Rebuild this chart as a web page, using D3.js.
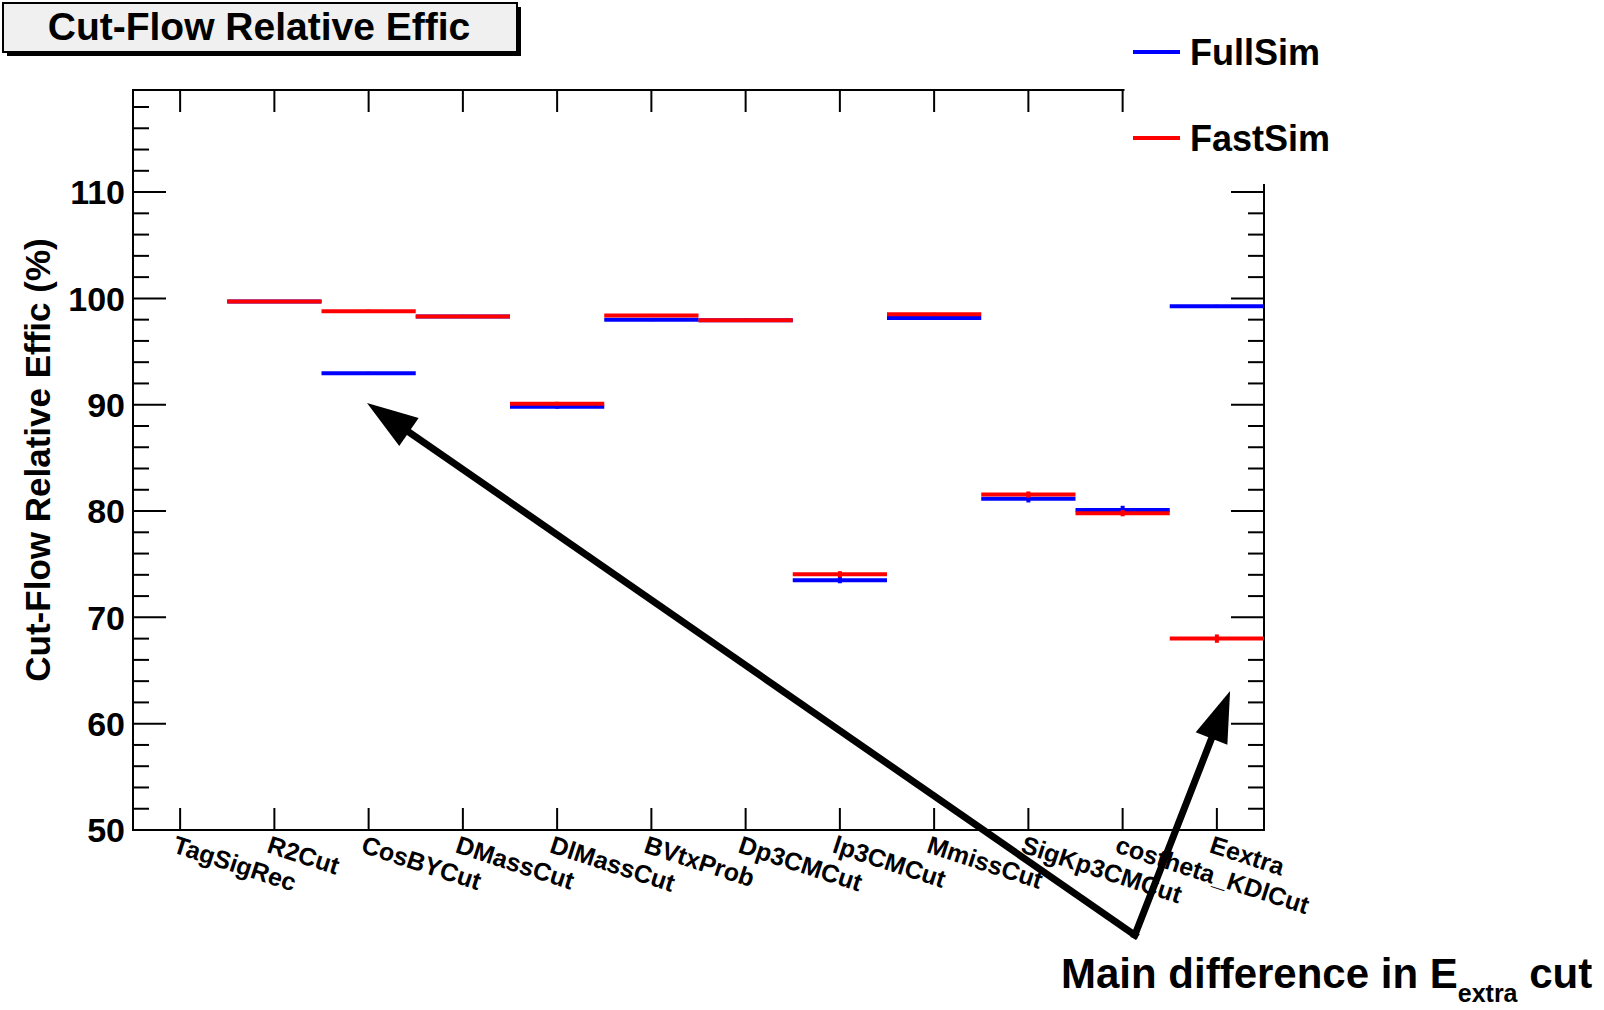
<!DOCTYPE html>
<html>
<head>
<meta charset="utf-8">
<script src="https://cdn.jsdelivr.net/npm/d3@7"></script>
<style>
  body { margin: 0; background: #fff; }
  text { font-family: "Liberation Sans", Arial, Helvetica, sans-serif; font-weight: bold; }
</style>
</head>
<body>
<div id="frame_div"></div>
<script>
// cut-flow relative efficiency, FullSim vs FastSim

const categories = ["TagSigRec", "R2Cut", "CosBYCut", "DMassCut", "DlMassCut", "BVtxProb",
                    "Dp3CMCut", "lp3CMCut", "MmissCut", "SigKp3CMCut", "costheta_KDlCut", "Eextra"];

// first bin has no efficiency
const fullSim = [null, 99.7, 92.95, 98.3, 89.8, 98.0, 97.95, 73.5, 98.15, 81.15, 80.1, 99.25];
const fastSim = [null, 99.7, 98.8, 98.3, 90.1, 98.4, 97.95, 74.05, 98.5, 81.55, 79.8, 68.0];
const fullErr = [null, 0.03, 0.05, 0.05, 0.08, 0.05, 0.05, 0.2, 0.05, 0.25, 0.3, 0.05];
const fastErr = [null, 0.03, 0.05, 0.05, 0.08, 0.05, 0.05, 0.2, 0.05, 0.2, 0.2, 0.3];

const yMajor = [50, 60, 70, 80, 90, 100, 110];

const FRAME_WIDTH = 1604;
const FRAME_HEIGHT = 1010;
const PLOT = {left: 133, right: 1264, top: 90, bottom: 830};
const Y_MAX = 119.6;

const svg = d3.select("#frame_div")
  .append("svg")
    .attr("width", FRAME_WIDTH)
    .attr("height", FRAME_HEIGHT);

const X_SCALE = d3.scaleBand()
  .domain(categories)
  .range([PLOT.left, PLOT.right])
  .padding(0);

// continuous version of the x axis, in bin units, for annotations
const X_LIN = d3.scaleLinear().domain([0, categories.length]).range([PLOT.left, PLOT.right]);

const Y_SCALE = d3.scaleLinear()
  .domain([50, Y_MAX])
  .range([PLOT.bottom, PLOT.top]);

const bw = X_SCALE.bandwidth();
const center = (c) => X_SCALE(c) + bw / 2;

// frame
svg.append("rect")
  .attr("x", PLOT.left).attr("y", PLOT.top)
  .attr("width", PLOT.right - PLOT.left).attr("height", PLOT.bottom - PLOT.top)
  .attr("fill", "none").attr("stroke", "#000").attr("stroke-width", 2);

// y ticks, left and right
const minorTicks = d3.range(50, Y_MAX, 2);
minorTicks.forEach((v) => {
  const major = yMajor.includes(v);
  const len = major ? 33 : 16;
  svg.append("line")
    .attr("x1", PLOT.left).attr("x2", PLOT.left + len)
    .attr("y1", Y_SCALE(v)).attr("y2", Y_SCALE(v))
    .attr("stroke", "#000").attr("stroke-width", 2);
  svg.append("line")
    .attr("x1", PLOT.right).attr("x2", PLOT.right - len)
    .attr("y1", Y_SCALE(v)).attr("y2", Y_SCALE(v))
    .attr("stroke", "#000").attr("stroke-width", 2);
});

svg.selectAll(".ylab")
  .data(yMajor)
  .enter()
  .append("text")
    .attr("x", 125)
    .attr("y", (d) => Y_SCALE(d))
    .attr("dy", "0.36em")
    .attr("text-anchor", "end")
    .attr("font-size", 34)
    .text((d) => d);

// x ticks, top and bottom
categories.forEach((c) => {
  svg.append("line")
    .attr("x1", center(c)).attr("x2", center(c))
    .attr("y1", PLOT.bottom).attr("y2", PLOT.bottom - 22)
    .attr("stroke", "#000").attr("stroke-width", 2);
  svg.append("line")
    .attr("x1", center(c)).attr("x2", center(c))
    .attr("y1", PLOT.top).attr("y2", PLOT.top + 22)
    .attr("stroke", "#000").attr("stroke-width", 2);
});

svg.selectAll(".xlab")
  .data(categories)
  .enter()
  .append("text")
    .attr("transform", (d) => "translate(" + (center(d) - 3) + "," + (PLOT.bottom + 5) + ") rotate(18)")
    .attr("y", 18)
    .attr("font-size", 25)
    .text((d) => d);

// axis title
svg.append("text")
  .attr("transform", "translate(50," + 460 + ") rotate(-90)")
  .attr("text-anchor", "middle")
  .attr("font-size", 35)
  .text("Cut-Flow Relative Effic (%)");

// data: blue first, red on top
function drawSeries(vals, errs, color) {
  const pts = categories.map((c, i) => ({c: c, v: vals[i], e: errs[i]})).filter((d) => d.v !== null);
  svg.selectAll(null)
    .data(pts)
    .enter()
    .append("line")
      .attr("x1", (d) => X_SCALE(d.c))
      .attr("x2", (d) => X_SCALE(d.c) + bw)
      .attr("y1", (d) => Y_SCALE(d.v))
      .attr("y2", (d) => Y_SCALE(d.v))
      .attr("stroke", color)
      .attr("stroke-width", 4);
  svg.selectAll(null)
    .data(pts)
    .enter()
    .append("line")
      .attr("x1", (d) => center(d.c))
      .attr("x2", (d) => center(d.c))
      .attr("y1", (d) => Y_SCALE(d.v - d.e) + 1)
      .attr("y2", (d) => Y_SCALE(d.v + d.e) - 1)
      .attr("stroke", color)
      .attr("stroke-width", 4);
}
drawSeries(fullSim, fullErr, "#0000ff");
drawSeries(fastSim, fastErr, "#ff0000");

// legend box hides the top right corner of the frame
svg.append("rect")
  .attr("x", 1124.5).attr("y", 0)
  .attr("width", FRAME_WIDTH - 1124.5).attr("height", 184)
  .attr("fill", "#fff");

const legend = [{name: "FullSim", color: "#0000ff", y: 52}, {name: "FastSim", color: "#ff0000", y: 138}];
legend.forEach((l) => {
  svg.append("line")
    .attr("x1", 1133).attr("x2", 1180)
    .attr("y1", l.y).attr("y2", l.y)
    .attr("stroke", l.color).attr("stroke-width", 4);
  svg.append("text")
    .attr("x", 1190).attr("y", l.y + 13)
    .attr("font-size", 36)
    .text(l.name);
});

// title box with shadow
svg.append("rect")
  .attr("x", 7).attr("y", 7).attr("width", 514).attr("height", 49)
  .attr("fill", "#000");
svg.append("rect")
  .attr("x", 3).attr("y", 3).attr("width", 514).attr("height", 49)
  .attr("fill", "#f0f0f0").attr("stroke", "#000").attr("stroke-width", 2);
svg.append("text")
  .attr("x", 259).attr("y", 40)
  .attr("text-anchor", "middle")
  .attr("font-size", 39)
  .text("Cut-Flow Relative Effic");

// arrows pointing from the note to the two differences
const start = [X_LIN(10.63), Y_SCALE(40.12)];
const tips = [[X_LIN(2.483), Y_SCALE(90.16)], [X_LIN(11.64), Y_SCALE(63.07)]];
const HEAD_LEN = 51, HEAD_HW = 17;
tips.forEach((t) => {
  const dx = t[0] - start[0], dy = t[1] - start[1];
  const L = Math.hypot(dx, dy);
  const ux = dx / L, uy = dy / L;
  const bx = t[0] - ux * HEAD_LEN, by = t[1] - uy * HEAD_LEN;
  svg.append("line")
    .attr("x1", start[0]).attr("y1", start[1])
    .attr("x2", bx + ux * 4).attr("y2", by + uy * 4)
    .attr("stroke", "#000").attr("stroke-width", 7)
    .attr("stroke-linecap", "square");
  svg.append("path")
    .attr("d", d3.line()([
      t,
      [bx - uy * HEAD_HW, by + ux * HEAD_HW],
      [bx + uy * HEAD_HW, by - ux * HEAD_HW]
    ]) + "Z")
    .attr("fill", "#000");
});

const note = svg.append("text")
  .attr("x", 1061).attr("y", 988)
  .attr("font-size", 42);
note.append("tspan").text("Main difference in E");
note.append("tspan").attr("dy", 14).attr("font-size", 25).text("extra");
note.append("tspan").attr("dy", -14).text(" cut");
</script>
</body>
</html>
